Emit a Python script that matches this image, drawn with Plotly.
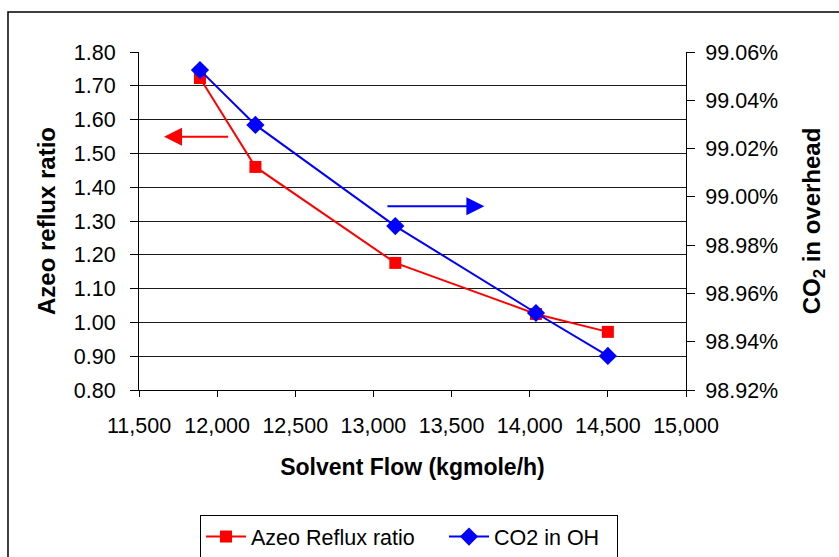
import plotly.graph_objects as go

# Solvent flow (kgmole/h)
solvent_flow = [11890, 12245, 13140, 14040, 14500]
# Azeotrope column reflux ratio (left axis)
reflux_ratio = [1.723, 1.46, 1.176, 1.025, 0.972]
# CO2 purity in the overhead, % (right axis)
co2_overhead = [99.0525, 99.0298, 98.9879, 98.9519, 98.9341]

x_ticks = [11500, 12000, 12500, 13000, 13500, 14000, 14500, 15000]

FONT = "Liberation Sans, Arial, sans-serif"
TICK_SIZE = 21.5
TITLE_SIZE = 23

fig = go.Figure()

fig.add_trace(go.Scatter(
    x=solvent_flow, y=reflux_ratio, name="Azeo Reflux ratio",
    mode="lines+markers",
    line=dict(color="#ff0000", width=2),
    marker=dict(symbol="square", size=12, color="#ff0000"),
    yaxis="y", legendwidth=188,
))
fig.add_trace(go.Scatter(
    x=solvent_flow, y=co2_overhead, name="CO2 in OH",
    mode="lines+markers",
    line=dict(color="#0000ff", width=2),
    marker=dict(symbol="diamond", size=14, color="#0000ff"),
    yaxis="y2", legendwidth=118,
))

# direction arrows pointing to each series' axis
fig.add_annotation(
    x=11660, y=1.549, ax=12080, ay=1.549,
    xref="x", yref="y", axref="x", ayref="y",
    text="", showarrow=True, arrowhead=2, arrowsize=1.8, arrowwidth=2,
    arrowcolor="#ff0000",
)
fig.add_annotation(
    x=13710, y=1.344, ax=13080, ay=1.344,
    xref="x", yref="y", axref="x", ayref="y",
    text="", showarrow=True, arrowhead=2, arrowsize=1.8, arrowwidth=2,
    arrowcolor="#0000ff",
)

# outer chart frame
fig.add_shape(
    type="rect", xref="paper", yref="paper",
    x0=-0.2395, x1=1.6, y0=-0.7, y1=1.1183,
    line=dict(color="#000000", width=1.5), fillcolor="rgba(0,0,0,0)",
    layer="below",
)

fig.update_layout(
    width=839, height=557,
    margin=dict(l=139, r=153, t=52, b=167, autoexpand=False),
    paper_bgcolor="white", plot_bgcolor="white",
    font=dict(family=FONT, size=TICK_SIZE, color="#000000"),
    showlegend=True,
    legend=dict(
        orientation="h", x=0.1115, y=-0.370, xanchor="left", yanchor="top",
        bordercolor="#000000", borderwidth=1, bgcolor="white",
        font=dict(family=FONT, size=TICK_SIZE),
        itemwidth=40, tracegroupgap=0,
    ),
    xaxis=dict(
        range=[11500, 15000], tickvals=x_ticks, tickformat=",",
        showgrid=False, zeroline=False, automargin=False,
        showline=True, linecolor="#000000", linewidth=1,
        ticks="outside", ticklen=6, tickcolor="#000000",
        ticklabelstandoff=10,
        tickfont=dict(size=TICK_SIZE),
        title=dict(text="<b>Solvent Flow (kgmole/h)</b>",
                   font=dict(size=TITLE_SIZE), standoff=22),
    ),
    yaxis=dict(
        range=[0.80, 1.80], dtick=0.1, tick0=0.8, tickformat=".2f",
        showgrid=True, gridcolor="#1a1a1a", gridwidth=1, zeroline=False,
        automargin=False,
        showline=True, linecolor="#000000", linewidth=1,
        ticks="outside", ticklen=8, tickcolor="#000000",
        ticklabelstandoff=10,
        tickfont=dict(size=TICK_SIZE),
        title=dict(text="<b>Azeo reflux ratio</b>",
                   font=dict(size=24), standoff=11),
    ),
    yaxis2=dict(
        range=[98.92, 99.06], dtick=0.02, tick0=98.92, tickformat=".2f",
        ticksuffix="%", overlaying="y", side="right",
        showgrid=False, zeroline=False, automargin=False,
        showline=True, linecolor="#000000", linewidth=1,
        ticks="outside", ticklen=8, tickcolor="#000000",
        ticklabelstandoff=6,
        tickfont=dict(size=TICK_SIZE),
        title=dict(text="<b>CO<sub>2</sub> in overhead</b>",
                   font=dict(size=24), standoff=25),
    ),
)

fig.write_html("out.html")
